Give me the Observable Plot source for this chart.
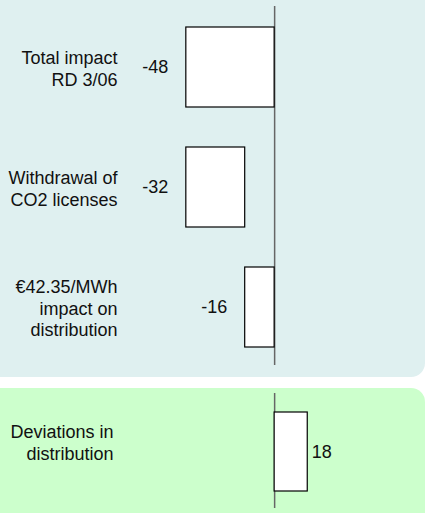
<!DOCTYPE html>
<html><head><meta charset="utf-8">
<script src="https://cdn.jsdelivr.net/npm/d3@7"></script>
<script src="https://cdn.jsdelivr.net/npm/@observablehq/plot@0.6"></script>
<style>
body{margin:0;background:#fff;}
#wrap{position:relative;width:425px;height:513px;overflow:hidden;font-family:"Liberation Sans",Arial,sans-serif;}
.panel{position:absolute;left:0;width:425px;}
.panel svg{display:block;}
#topPanel{top:0;height:377px;background:#dff0f0;border-bottom-right-radius:14px;}
#botPanel{top:388px;height:125px;background:#ccffcc;border-top-right-radius:14px;}
</style></head><body>
<div id="wrap"><div id="topPanel" class="panel"></div><div id="botPanel" class="panel"></div></div>
<script>
// Data
const categories = ["Total impact\nRD 3/06", "Withdrawal of\nCO2 licenses", "€42.35/MWh\nimpact on\ndistribution"];
const values = [-48, -32, -16];
const deviationCategories = ["Deviations in\ndistribution"];
const deviationValues = [18];

// Waterfall: first bar is the total from 0; components decompose it back to 0
const rows = [];
let base = values[0];
values.forEach((v, i) => {
  if (i === 0) rows.push({cat: categories[i], value: v, x1: 0, x2: v});
  else { rows.push({cat: categories[i], value: v, x1: base, x2: base - v}); base = base - v; }
});
const devRows = deviationCategories.map((c, i) => ({cat: c, value: deviationValues[i], x1: 0, x2: deviationValues[i]}));

const xScale = {domain: [-149, 82], range: [0, 425]};
const font = {background: "transparent", fontSize: "18px", fontFamily: "'Liberation Sans', Arial, sans-serif", color: "#111", overflow: "visible"};

const topChart = Plot.plot({
  width: 425, height: 377,
  marginTop: 6, marginBottom: 12, marginLeft: 0, marginRight: 0,
  x: {...xScale, axis: null},
  y: {domain: categories, range: [6, 368], paddingInner: 0.337, paddingOuter: 0.168, axis: null},
  style: font,
  marks: [
    Plot.ruleX([0], {stroke: "#666", strokeWidth: 1.5}),
    Plot.barX(rows, {x1: "x1", x2: "x2", y: "cat", fill: "#fff", stroke: "#000", strokeWidth: 1.2}),
    Plot.text(rows, {x: d => Math.min(d.x1, d.x2), y: "cat", text: d => String(d.value), textAnchor: "end", dx: -18, fill: "#111"}),
    Plot.text(rows, {y: "cat", text: "cat", frameAnchor: "left", dx: 117, textAnchor: "end", lineHeight: 1.22, fill: "#111"})
  ]
});
document.getElementById("topPanel").appendChild(topChart);

const botChart = Plot.plot({
  width: 425, height: 125,
  marginTop: 5, marginBottom: 5, marginLeft: 0, marginRight: 0,
  x: {...xScale, axis: null},
  y: {domain: deviationCategories, range: [24, 103], padding: 0, axis: null},
  style: font,
  marks: [
    Plot.ruleX([0], {stroke: "#666", strokeWidth: 1.5}),
    Plot.barX(devRows, {x1: "x1", x2: "x2", y: "cat", fill: "#fff", stroke: "#000", strokeWidth: 1.2}),
    Plot.text(devRows, {x: d => Math.max(d.x1, d.x2), y: "cat", text: d => String(d.value), textAnchor: "start", dx: 4, fill: "#111"}),
    Plot.text(devRows, {y: "cat", text: "cat", frameAnchor: "left", dx: 113, dy: -10, textAnchor: "end", lineHeight: 1.22, fill: "#111"})
  ]
});
document.getElementById("botPanel").appendChild(botChart);
</script>
</body></html>
